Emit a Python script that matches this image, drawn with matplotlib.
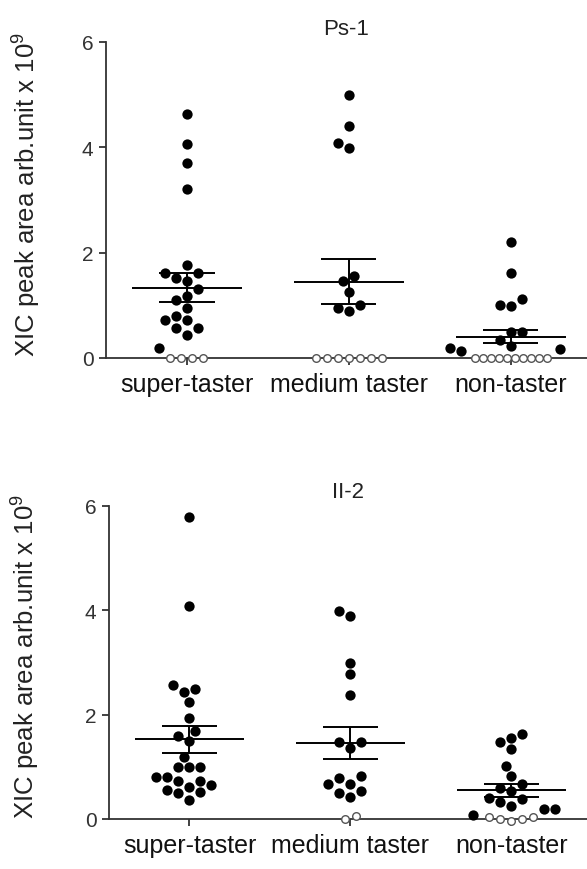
import matplotlib
matplotlib.use("Agg")
import matplotlib.pyplot as plt
import numpy as np

plt.rcParams["font.family"] = ["Liberation Sans", "DejaVu Sans"]
plt.rcParams["mathtext.fontset"] = "custom"
plt.rcParams["mathtext.rm"] = "Liberation Sans"

groups = ["super-taster", "medium taster", "non-taster"]

# Ps-1: detected values (filled) and not-detected samples (open, plotted at 0)
ps1_super = [4.64, 4.07, 3.70, 3.21, 1.77, 1.61, 1.61, 1.51, 1.46, 1.30,
             1.17, 1.10, 0.94, 0.80, 0.73, 0.73, 0.56, 0.56, 0.44, 0.18]
ps1_super_nd = [0, 0, 0, 0]
ps1_medium = [5.00, 4.40, 4.09, 3.99, 1.55, 1.46, 1.26, 1.01, 0.95, 0.90]
ps1_medium_nd = [0, 0, 0, 0, 0, 0, 0]
ps1_non = [2.21, 1.61, 1.12, 1.01, 0.98, 0.49, 0.49, 0.34, 0.23, 0.18,
           0.17, 0.13]
ps1_non_nd = [0, 0, 0, 0, 0, 0, 0, 0, 0, 0]

# II-2
ii2_super = [5.78, 4.07, 2.57, 2.49, 2.43, 2.24, 1.94, 1.68, 1.58, 1.49,
             1.18, 0.99, 0.99, 0.99, 0.80, 0.80, 0.73, 0.73, 0.65, 0.61,
             0.56, 0.51, 0.50, 0.37]
ii2_super_nd = []
ii2_medium = [3.98, 3.88, 2.98, 2.77, 2.38, 1.47, 1.47, 1.35, 0.82, 0.78,
              0.67, 0.67, 0.54, 0.50, 0.43]
ii2_medium_nd = [0.0, 0.06]
ii2_non = [1.63, 1.55, 1.48, 1.34, 1.02, 0.82, 0.67, 0.59, 0.54, 0.40,
           0.38, 0.32, 0.24, 0.19, 0.19, 0.08]
ii2_non_nd = [0.04, 0.0, -0.03, 0.0, 0.03]

DOT = 11.0       # spacing between dot centres, px
ROW_MAX = 72.0   # widest a row of open circles may get, px


def swarm(ax, filled, opened):
    bbox = ax.get_window_extent()
    x0, x1 = ax.get_xlim()
    y0, y1 = ax.get_ylim()
    sx = bbox.width / (x1 - x0)
    sy = bbox.height / (y1 - y0)

    # not-detected samples sit in a centred row, squeezed if too long
    n = len(opened)
    gap = min(DOT, ROW_MAX / max(n - 1, 1))
    xo = (np.arange(n) - (n - 1) / 2) * gap
    placed = [(x, v * sy, 1.3) for x, v in zip(xo, opened)]

    xf = np.zeros(len(filled))
    cands = [0.0]
    for k in range(1, 40):
        cands += [-k * DOT / 2, k * DOT / 2]
    for i in np.argsort(filled):
        y = filled[i] * sy
        for c in cands:
            if all((c - px) ** 2 + (y - py) ** 2 >= DOT ** 2 * tol
                   for px, py, tol in placed):
                break
        xf[i] = c
        placed.append((c, y, 0.92))
    return xf / sx, xo / sx


def panel(ax, title, filled, opened):
    ax.set_xlim(-0.5, 2.47)
    ax.set_ylim(0, 6)
    for i, (f, o) in enumerate(zip(filled, opened)):
        f = np.asarray(f, float)
        o = np.asarray(o, float)
        xf, xo = swarm(ax, f, o)
        if len(o):
            ax.scatter(i + xo, o, s=30, facecolor="white", edgecolor="#555555",
                       linewidth=1.0, clip_on=False, zorder=3)
        ax.scatter(i + xf, f, s=55, color="black", linewidth=0,
                   clip_on=False, zorder=4)

        vals = np.concatenate([f, np.clip(o, 0, None)])
        m = vals.mean()
        sem = vals.std(ddof=1) / np.sqrt(len(vals))
        ax.hlines(m, i - 0.34, i + 0.34, color="black", lw=1.4, zorder=5)
        ax.hlines([m - sem, m + sem], i - 0.17, i + 0.17, color="black",
                  lw=1.4, zorder=5)
        ax.vlines(i, m - sem, m + sem, color="black", lw=1.4, zorder=5)

    ax.set_title(title, fontsize=16, pad=6, color="#222222")
    ax.set_xticks([0, 1, 2], groups, fontsize=18, color="#111111")
    ax.set_yticks([0, 2, 4, 6])
    ax.tick_params(axis="y", labelsize=15, labelcolor="#333333")
    ax.tick_params(length=5, width=1.3, color="#333333", pad=4)
    ax.tick_params(axis="x", pad=5)
    for s in ("top", "right"):
        ax.spines[s].set_visible(False)
    for s in ("left", "bottom"):
        ax.spines[s].set_linewidth(1.3)
        ax.spines[s].set_color("#333333")
    ax.set_ylabel("XIC peak area arb.unit x 10$^9$", fontsize=18.5,
                  color="#222222")


fig = plt.figure(figsize=(5.87, 8.70), dpi=100)
ax_top = fig.add_axes([0.1806, 0.5874, 0.8194, 0.3632])
ax_bot = fig.add_axes([0.1857, 0.0575, 0.8143, 0.3601])

panel(ax_top, "Ps-1", [ps1_super, ps1_medium, ps1_non],
      [ps1_super_nd, ps1_medium_nd, ps1_non_nd])
panel(ax_bot, "II-2", [ii2_super, ii2_medium, ii2_non],
      [ii2_super_nd, ii2_medium_nd, ii2_non_nd])

ax_top.yaxis.set_label_coords(-0.134, 0.519)
ax_bot.yaxis.set_label_coords(-0.142, 0.521)

fig.savefig("out.png", dpi=100)
